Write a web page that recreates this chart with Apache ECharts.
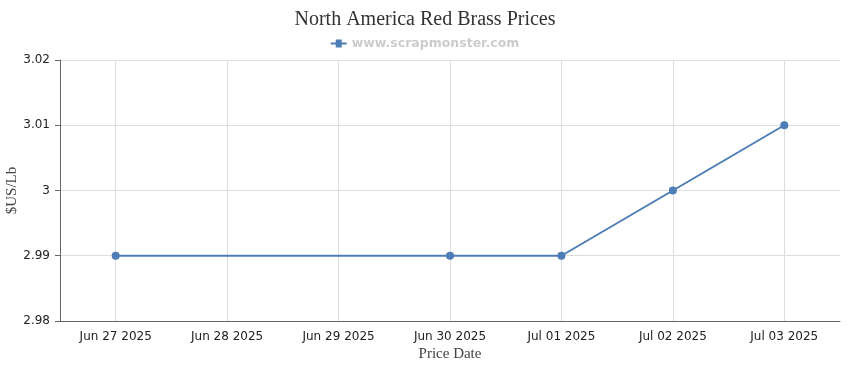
<!DOCTYPE html>
<html><head><meta charset="utf-8">
<script src="https://cdn.jsdelivr.net/npm/echarts@6/dist/echarts.min.js"></script>
<style>html,body{margin:0;padding:0;background:#fff}#c{width:850px;height:370px}</style>
</head><body><div id="c"></div>
<script>
const categories = ['Jun 27 2025','Jun 28 2025','Jun 29 2025','Jun 30 2025','Jul 01 2025','Jul 02 2025','Jul 03 2025'];
const prices = [2.99, null, null, 2.99, 2.99, 3.00, 3.01];
const seriesName = 'www.scrapmonster.com';
const chart = echarts.init(document.getElementById('c'));
chart.setOption({
  animation: false,
  title: {text: 'North America Red Brass Prices', left: 'center', top: 5,
    textStyle: {fontFamily: 'Liberation Serif', fontWeight: 'normal', fontSize: 20, color: '#333'}},
  legend: {top: 32, left: 'center', itemWidth: 16, itemHeight: 8, itemGap: 6,
    data: [{name: seriesName, icon: 'path://M0,3h5v-3h6v3h5v2h-5v3h-6v-3h-5z'}],
    textStyle: {color: '#cccccc', fontWeight: 'bold', fontSize: 12.5, fontFamily: 'DejaVu Sans'}},
  grid: {left: 60, right: 10, top: 60, bottom: 49, containLabel: false, outerBoundsMode: 'none'},
  xAxis: {type: 'category', data: categories, boundaryGap: true,
    name: 'Price Date', nameLocation: 'middle', nameGap: 26, nameMoveOverlap: false,
    nameTextStyle: {fontFamily: 'Liberation Serif', fontSize: 15, color: '#444'},
    axisLine: {lineStyle: {color: '#666'}},
    axisTick: {alignWithLabel: true, length: 5, lineStyle: {color: '#666'}},
    axisLabel: {color: '#222', fontFamily: 'DejaVu Sans', fontSize: 12, margin: 10},
    splitLine: {show: true, alignWithLabel: true, lineStyle: {color: '#dddddd'}}},
  yAxis: {type: 'value', min: 2.98, max: 3.02, interval: 0.01,
    name: '$US/Lb', nameLocation: 'middle', nameGap: 40, nameMoveOverlap: false,
    nameTextStyle: {fontFamily: 'Liberation Serif', fontSize: 15, color: '#444'},
    axisLine: {show: true, lineStyle: {color: '#666'}},
    axisTick: {show: true, length: 5, lineStyle: {color: '#666'}},
    axisLabel: {color: '#222', fontFamily: 'DejaVu Sans', fontSize: 12, margin: 10},
    splitLine: {lineStyle: {color: '#dddddd'}}},
  series: [{name: seriesName, type: 'line', data: prices, connectNulls: true,
    symbol: 'circle', symbolSize: 8, itemStyle: {color: '#4d7db5'},
    lineStyle: {width: 2, color: '#4d7db5'}}]
});
</script></body></html>
